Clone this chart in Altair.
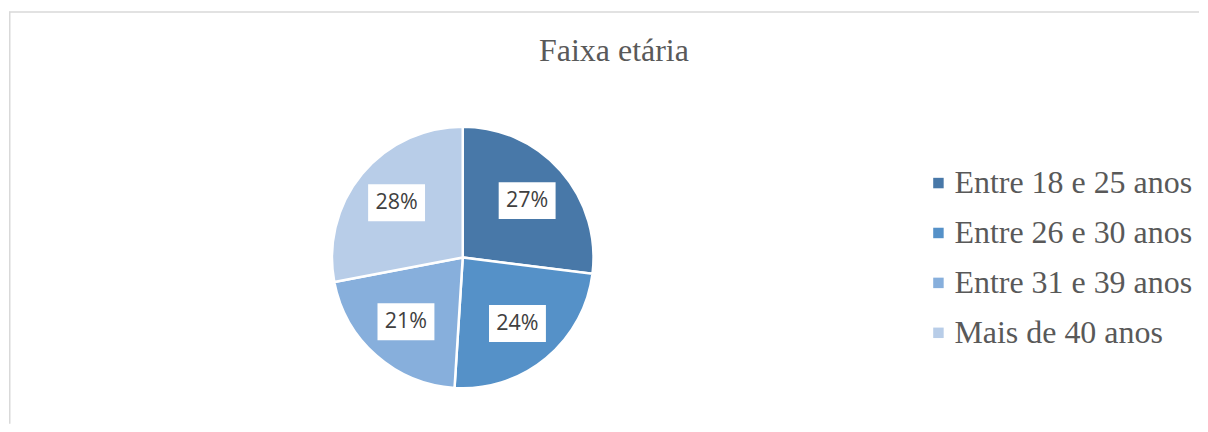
import altair as alt
import pandas as pd

title_text = ["Faixa etária"]
categories = ["Entre 18 e 25 anos", "Entre 26 e 30 anos", "Entre 31 e 39 anos", "Mais de 40 anos"]
values = [27, 24, 21, 28]
labels = ["27%", "24%", "21%", "28%"]
order = [1, 2, 3, 4]
colors = ["#4878A8", "#5591C8", "#87AFDC", "#B8CDE8"]

df = pd.DataFrame({"cat": categories, "value": values, "label": labels, "ord": order})
title_df = pd.DataFrame({"t": title_text})

W, H = 1192, 416
CX, CY, R, LR = 454.5, 249.5, 131, 86

base = alt.Chart(df)

arcs = base.mark_arc(outerRadius=R, stroke="white", strokeWidth=2.5).encode(
    theta=alt.Theta("value:Q", stack=True),
    order=alt.Order("ord:Q"),
    x=alt.value(CX),
    y=alt.value(CY),
    color=alt.Color(
        "cat:N",
        scale=alt.Scale(domain=categories, range=colors),
        legend=alt.Legend(
            title=None,
            orient="none",
            legendX=915,
            legendY=159,
            symbolType="square",
            symbolSize=110,
            symbolStrokeWidth=0,
            labelFont="Liberation Serif",
            labelFontSize=32,
            labelColor="#595959",
            labelOffset=0,
            rowPadding=18,
            labelLimit=400,
            padding=0,
        ),
    ),
)

pos = base.transform_window(
    cum="sum(value)", sort=[alt.SortField("ord", order="ascending")]
).transform_joinaggregate(
    total="sum(value)"
).transform_calculate(
    mid="(datum.cum - datum.value/2) / datum.total * 2 * PI",
).transform_calculate(
    px=f"{CX} + {LR} * sin(datum.mid)",
    py=f"{CY} - {LR} * cos(datum.mid)",
).transform_calculate(
    bx1="datum.px - 28.5", bx2="datum.px + 28.5",
    by1="datum.py - 18.5", by2="datum.py + 18.5",
)

boxes = pos.mark_rect(color="white").encode(
    x=alt.X("bx1:Q", scale=None, axis=None),
    x2="bx2:Q",
    y=alt.Y("by1:Q", scale=None, axis=None),
    y2="by2:Q",
)

texts = pos.mark_text(font="Open Sans", fontSize=21.5, color="#404040", baseline="middle", align="center").encode(
    x=alt.X("px:Q", scale=None, axis=None),
    y=alt.Y("py:Q", scale=None, axis=None),
    text="label:N",
)

title = alt.Chart(title_df).mark_text(
    font="Liberation Serif", fontSize=32, color="#595959", align="center", baseline="alphabetic"
).encode(x=alt.value(606), y=alt.value(53), text="t:N")

border_v = alt.Chart(title_df).mark_rule(color="#D9D9D9", strokeWidth=1.5).encode(
    x=alt.value(0.75), y=alt.value(3.5), y2=alt.value(H)
)
border_h = alt.Chart(title_df).mark_rule(color="#D9D9D9", strokeWidth=1.5).encode(
    x=alt.value(0), x2=alt.value(W), y=alt.value(3.75)
)

chart = alt.layer(border_v, border_h, arcs, boxes, texts, title).properties(
    width=W, height=H, padding=0, background="white"
).configure_view(strokeWidth=0)

chart.save("out.html", embed_options={"renderer": "svg", "actions": False})
